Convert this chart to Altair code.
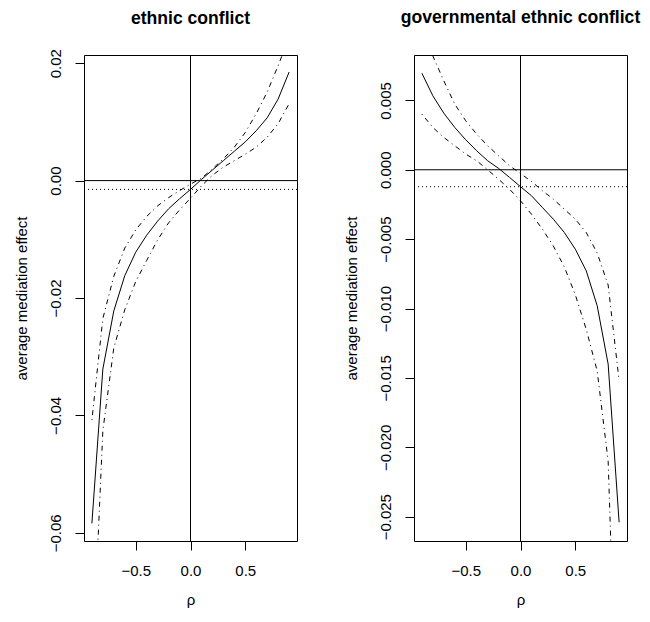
import altair as alt
import pandas as pd

rho = [-0.9, -0.8, -0.7, -0.6, -0.5, -0.4, -0.3, -0.2, -0.1, 0.0,
       0.1, 0.2, 0.3, 0.4, 0.5, 0.6, 0.7, 0.8, 0.9]

# panel 1: ethnic conflict
eth_est = [-0.0584, -0.0321, -0.0222, -0.0162, -0.0122, -0.0093, -0.0069, -0.0048, -0.0031, -0.0015,
           0.0002, 0.0018, 0.0034, 0.0050, 0.0066, 0.0085, 0.0107, 0.0139, 0.0185]
eth_hi = [-0.0408, -0.0235, -0.0163, -0.0115, -0.0084, -0.0061, -0.0043, -0.0029, -0.0017, -0.0006,
          0.0004, 0.0020, 0.0037, 0.0057, 0.0082, 0.0114, 0.0151, 0.0196, 0.0244]
eth_lo = [-0.0850, -0.0426, -0.0285, -0.0220, -0.0172, -0.0136, -0.0101, -0.0072, -0.0050, -0.0030,
          -0.0009, 0.0009, 0.0023, 0.0034, 0.0045, 0.0057, 0.0074, 0.0097, 0.0131]
eth_acme = [-0.0015]
eth_ydomain = [-0.0614, 0.0214]
eth_yticks = [-0.06, -0.04, -0.02, 0.00, 0.02]

# panel 2: governmental ethnic conflict
gov_est = [0.00696, 0.00533, 0.00408, 0.00305, 0.00216, 0.00137, 0.00065, 0.0001, -0.00055, -0.00122,
           -0.00187, -0.00272, -0.00356, -0.00452, -0.00572, -0.00728, -0.0098, -0.0140, -0.0254]
gov_hi = [0.0105, 0.0082, 0.00641, 0.00473, 0.00353, 0.00257, 0.00173, 0.00101, 0.00029, -0.00027,
          -0.00084, -0.00151, -0.00212, -0.00284, -0.00356, -0.00452, -0.0060, -0.0083, -0.0152]
gov_lo = [0.00401, 0.00305, 0.00233, 0.00173, 0.00113, 0.00065, 0.0000, -0.00068, -0.0014, -0.00223,
          -0.0032, -0.00428, -0.0055, -0.0070, -0.0090, -0.0115, -0.0145, -0.0210, -0.0450]
gov_acme = [-0.00122]
gov_ydomain = [-0.02675, 0.00827]
gov_yticks = [-0.025, -0.020, -0.015, -0.010, -0.005, 0.000, 0.005]

x_domain = [-0.972, 0.972]
x_ticks = [-0.5, 0.0, 0.5]

FONT = "Liberation Sans"


def panel(title, est, hi, lo, acme, ydomain, yticks, yfmt, title_offset):
    df = pd.DataFrame({"rho": rho, "est": est, "hi": hi, "lo": lo})
    xscale = alt.Scale(domain=x_domain, nice=False, zero=False)
    yscale = alt.Scale(domain=ydomain, nice=False, zero=False)
    xaxis = alt.Axis(values=x_ticks, format=".1f", title="ρ", titleY=63,
                     titleBaseline="alphabetic", labelPadding=13)
    yaxis = alt.Axis(values=yticks, format=yfmt, title="average mediation effect",
                     labelAngle=270, labelAlign="center", labelBaseline="bottom",
                     labelPadding=12, titleX=-58, titleBaseline="alphabetic")

    def X(f):
        return alt.X(f, type="quantitative", scale=xscale, axis=xaxis)

    def Y(f):
        return alt.Y(f, type="quantitative", scale=yscale, axis=yaxis)

    base = alt.Chart(df)
    est_line = base.mark_line(color="black", strokeWidth=1, clip=True).encode(x=X("rho"), y=Y("est"))
    hi_line = base.mark_line(color="black", strokeWidth=1, strokeDash=[1, 4, 5, 4], clip=True).encode(
        x=X("rho"), y=Y("hi"))
    lo_line = base.mark_line(color="black", strokeWidth=1, strokeDash=[1, 4, 5, 4], clip=True).encode(
        x=X("rho"), y=Y("lo"))
    h0 = alt.Chart(pd.DataFrame({"h": [0.0]})).mark_rule(color="black", strokeWidth=1).encode(y=Y("h"))
    hacme = alt.Chart(pd.DataFrame({"a": acme})).mark_rule(color="black", strokeWidth=1, strokeDash=[1, 3]).encode(
        y=Y("a"))
    v0 = alt.Chart(pd.DataFrame({"v": [0.0]})).mark_rule(color="black", strokeWidth=1).encode(x=X("v"))
    return alt.layer(hi_line, lo_line, est_line, h0, hacme, v0).properties(
        width=213, height=486,
        title=alt.TitleParams(title, fontSize=17.6, font=FONT, fontWeight="bold", anchor="middle",
                              frame="group", baseline="alphabetic", offset=title_offset, color="black"))


left = panel("ethnic conflict", eth_est, eth_hi, eth_lo, eth_acme, eth_ydomain, eth_yticks, ".2f", 6.7)
right = panel("governmental ethnic conflict", gov_est, gov_hi, gov_lo, gov_acme, gov_ydomain, gov_yticks, ".3f", 13.7)

chart = alt.hconcat(left, right, spacing=117, bounds="flush").resolve_scale(
    x="independent", y="independent"
).properties(
    padding={"left": 5, "top": 0, "right": 0, "bottom": 0},
    background="white"
).configure_view(
    stroke="black", strokeWidth=1
).configure_axis(
    labelFont=FONT, titleFont=FONT, labelFontSize=15, titleFontSize=15,
    labelColor="black", titleColor="black", titleFontWeight="normal",
    tickSize=9, tickColor="black", tickWidth=1, domain=False, grid=False
)

chart.save("out.html", embed_options={"renderer": "svg", "actions": False})
